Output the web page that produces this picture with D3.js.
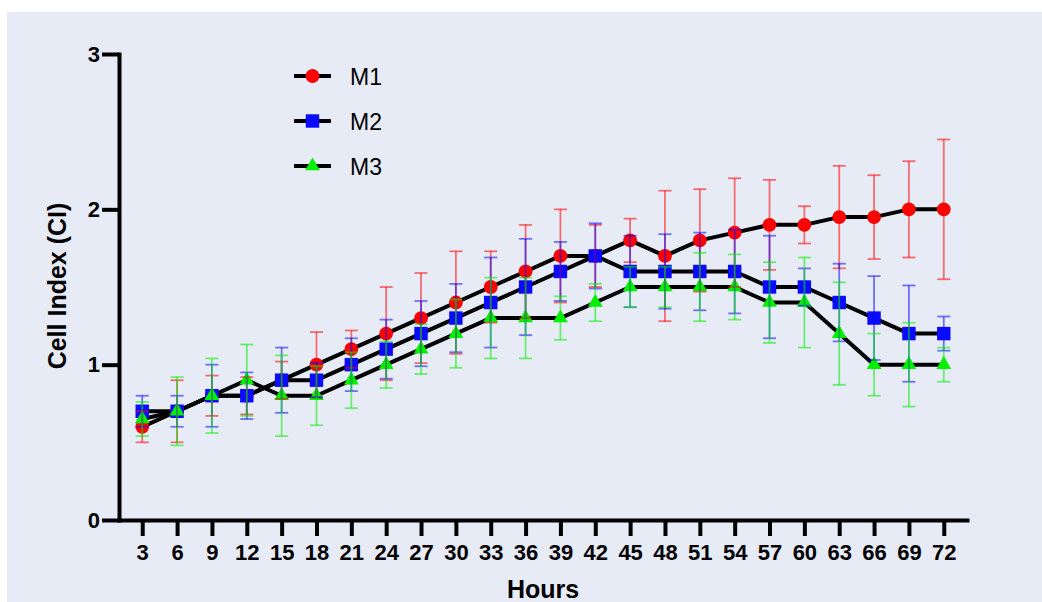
<!DOCTYPE html>
<html>
<head>
<meta charset="utf-8">
<script src="https://cdnjs.cloudflare.com/ajax/libs/d3/7.8.5/d3.min.js"></script>
<style>
  body { margin: 0; background: #ffffff; }
  svg { display: block; font-family: "Liberation Sans", Arial, sans-serif; }
</style>
</head>
<body>
<script>
var hours = [3, 6, 9, 12, 15, 18, 21, 24, 27, 30, 33, 36, 39, 42, 45, 48, 51, 54, 57, 60, 63, 66, 69, 72];

var m1Mean = [0.6, 0.7, 0.8, 0.8, 0.9, 1.0, 1.1, 1.2, 1.3, 1.4, 1.5, 1.6, 1.7, 1.7, 1.8, 1.7, 1.8, 1.85, 1.9, 1.9, 1.95, 1.95, 2.0, 2.0];
var m1Err = [0.1, 0.2, 0.13, 0.12, 0.12, 0.21, 0.12, 0.3, 0.29, 0.33, 0.23, 0.3, 0.3, 0.2, 0.14, 0.42, 0.33, 0.35, 0.29, 0.12, 0.33, 0.27, 0.31, 0.45];

var m2Mean = [0.7, 0.7, 0.8, 0.8, 0.9, 0.9, 1.0, 1.1, 1.2, 1.3, 1.4, 1.5, 1.6, 1.7, 1.6, 1.6, 1.6, 1.6, 1.5, 1.5, 1.4, 1.3, 1.2, 1.2];
var m2Err = [0.1, 0.1, 0.2, 0.15, 0.21, 0.11, 0.17, 0.19, 0.21, 0.22, 0.29, 0.31, 0.19, 0.21, 0.23, 0.24, 0.25, 0.27, 0.33, 0.12, 0.25, 0.27, 0.31, 0.11];

var m3Mean = [0.65, 0.7, 0.8, 0.9, 0.8, 0.8, 0.9, 1.0, 1.1, 1.2, 1.3, 1.3, 1.3, 1.4, 1.5, 1.5, 1.5, 1.5, 1.4, 1.4, 1.2, 1.0, 1.0, 1.0];
var m3Err = [0.11, 0.22, 0.24, 0.23, 0.26, 0.19, 0.18, 0.15, 0.16, 0.22, 0.26, 0.26, 0.14, 0.12, 0.13, 0.13, 0.22, 0.21, 0.26, 0.29, 0.33, 0.2, 0.27, 0.11];

var yTicks = [0, 1, 2, 3];
var seriesNames = ['M1', 'M2', 'M3'];

var series = [
  { name: seriesNames[0], mean: m1Mean, err: m1Err, color: '#ff0000', symbol: d3.symbolCircle, size: 150 },
  { name: seriesNames[1], mean: m2Mean, err: m2Err, color: '#0a0aff', symbol: d3.symbolSquare, size: 180 },
  { name: seriesNames[2], mean: m3Mean, err: m3Err, color: '#00f000', symbol: d3.symbolTriangle, size: 95 }
];

var width = 1042, height = 602;

var svg = d3.select('body')
  .append('svg')
  .attr('width', width)
  .attr('height', height);

// light panel behind the plot
svg.append('rect')
  .attr('x', 7)
  .attr('y', 12)
  .attr('width', width - 7)
  .attr('height', height - 12)
  .attr('fill', '#e7ebf6');

var x = d3.scaleLinear().domain([1, 74]).range([119, 967]);
var y = d3.scaleLinear().domain([0, 3]).range([520, 54]);

var line = d3.line()
  .x(function(d) { return x(d.h); })
  .y(function(d) { return y(d.v); });

function points(s) {
  return hours.map(function(h, i) {
    return { h: h, v: s.mean[i], e: s.err[i] };
  });
}

// black connecting lines
svg.selectAll('path.series-line')
  .data(series)
  .enter()
  .append('path')
  .attr('class', 'series-line')
  .attr('fill', 'none')
  .attr('stroke', '#000')
  .attr('stroke-width', 4)
  .attr('stroke-linejoin', 'round')
  .attr('d', function(s) { return line(points(s)); });

// markers
series.forEach(function(s) {
  svg.append('g')
    .selectAll('path')
    .data(points(s))
    .enter()
    .append('path')
    .attr('transform', function(d) { return 'translate(' + x(d.h) + ',' + y(d.v) + ')'; })
    .attr('d', d3.symbol().type(s.symbol).size(s.size))
    .attr('fill', s.color);
});

// error bars on top, half transparent
var cap = 6.5;
series.forEach(function(s) {
  var g = svg.append('g')
    .attr('stroke', s.color)
    .attr('stroke-opacity', 0.55)
    .attr('stroke-width', 1.8);

  var bars = g.selectAll('g')
    .data(points(s))
    .enter()
    .append('g');

  bars.append('line')
    .attr('x1', function(d) { return x(d.h); })
    .attr('x2', function(d) { return x(d.h); })
    .attr('y1', function(d) { return y(d.v + d.e); })
    .attr('y2', function(d) { return y(d.v - d.e); });

  bars.append('line')
    .attr('x1', function(d) { return x(d.h) - cap; })
    .attr('x2', function(d) { return x(d.h) + cap; })
    .attr('y1', function(d) { return y(d.v + d.e); })
    .attr('y2', function(d) { return y(d.v + d.e); });

  bars.append('line')
    .attr('x1', function(d) { return x(d.h) - cap; })
    .attr('x2', function(d) { return x(d.h) + cap; })
    .attr('y1', function(d) { return y(d.v - d.e); })
    .attr('y2', function(d) { return y(d.v - d.e); });
});

// axes
var xAxis = svg.append('g')
  .attr('transform', 'translate(0,' + y(0) + ')')
  .call(d3.axisBottom(x).tickValues(hours).tickSize(16).tickSizeOuter(0).tickPadding(8));

var yAxis = svg.append('g')
  .attr('transform', 'translate(' + x(1) + ',0)')
  .call(d3.axisLeft(y).tickValues(yTicks).tickSize(17).tickSizeOuter(0).tickPadding(2).tickFormat(d3.format('d')));

[xAxis, yAxis].forEach(function(a) {
  a.select('.domain').attr('stroke', '#000').attr('stroke-width', 4).attr('stroke-linecap', 'square');
  a.selectAll('.tick line').attr('stroke', '#000').attr('stroke-width', 4);
  a.selectAll('.tick text')
    .attr('fill', '#000')
    .style('font-size', '22px')
    .style('font-weight', 'bold')
    .style('font-family', '"Liberation Sans", Arial, sans-serif');
});

// axis titles
svg.append('text')
  .attr('x', 543)
  .attr('y', 598)
  .attr('text-anchor', 'middle')
  .style('font-size', '25px')
  .style('font-weight', 'bold')
  .text('Hours');

svg.append('text')
  .attr('transform', 'translate(66,286) rotate(-90)')
  .attr('text-anchor', 'middle')
  .style('font-size', '25px')
  .style('font-weight', 'bold')
  .text('Cell Index (CI)');

// legend
var legend = svg.selectAll('g.legend')
  .data(series)
  .enter()
  .append('g')
  .attr('class', 'legend')
  .attr('transform', function(d, i) { return 'translate(294,' + (76 + i * 45) + ')'; });

legend.append('line')
  .attr('x1', 0)
  .attr('x2', 37)
  .attr('stroke', '#000')
  .attr('stroke-width', 4);

legend.append('path')
  .attr('transform', 'translate(18.5,0)')
  .attr('d', function(s) { return d3.symbol().type(s.symbol).size(s.size)(); })
  .attr('fill', function(s) { return s.color; });

legend.append('text')
  .attr('x', 56)
  .attr('y', 8.5)
  .style('font-size', '23px')
  .text(function(s) { return s.name; });
</script>
</body>
</html>
